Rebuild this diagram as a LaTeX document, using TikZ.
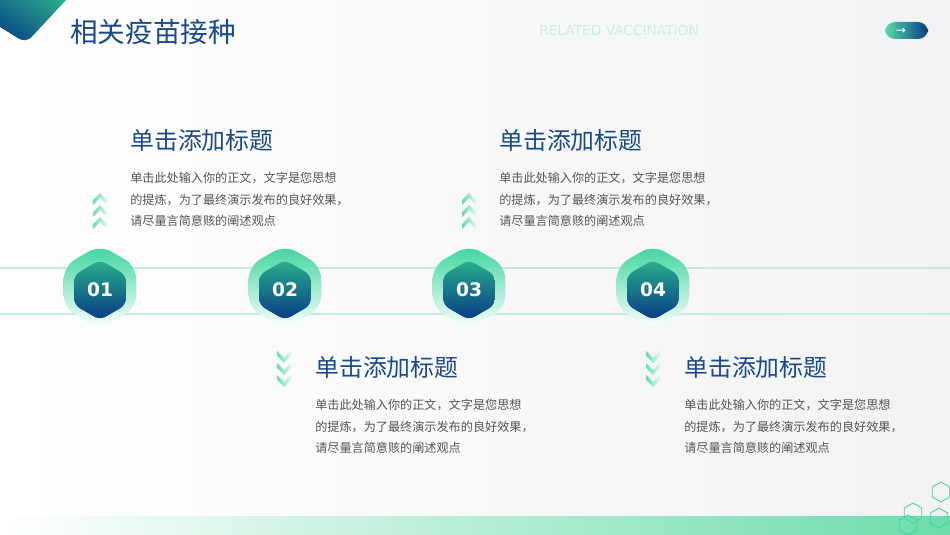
\documentclass[tikz,border=0pt]{standalone}
\usepackage{fontspec}
\newfontfamily\cjk{Noto Sans CJK SC}
\newfontfamily\numfont{DejaVu Sans}
\usepackage{tikz}
\usetikzlibrary{positioning, shadings}
\definecolor{VacNavy}{RGB}{8,58,134}
\definecolor{VacTitle}{RGB}{26,74,138}
\definecolor{VacTeal}{RGB}{42,176,140}
\definecolor{VacMint}{RGB}{61,212,156}
\definecolor{VacLine}{RGB}{196,236,222}
\definecolor{VacPale}{RGB}{200,240,225}
\definecolor{VacText}{RGB}{85,85,85}
\definecolor{VacBand}{RGB}{108,220,170}

% hexagono de punta arriba: x, y, radio
\newcommand{\vachex}[3]{({#1+0.866*#3},{#2-0.5*#3}) -- (#1,{#2-#3}) -- ({#1-0.866*#3},{#2-0.5*#3})
	-- ({#1-0.866*#3},{#2+0.5*#3}) -- (#1,{#2+#3}) -- ({#1+0.866*#3},{#2+0.5*#3}) -- cycle}
% chevron: x, y del vertice, sentido (1 arriba, -1 abajo)
\newcommand{\vacchev}[3]{(#1,#2) -- ({#1+7},{#2+7*#3}) -- ({#1+7},{#2+12*#3}) -- (#1,{#2+5*#3})
	-- ({#1-7},{#2+12*#3}) -- ({#1-7},{#2+7*#3}) -- cycle}

\tikzset{
	headtext/.style={anchor=west, inner sep=0pt, text=VacTitle, font=\cjk\fontsize{17.9}{20}\selectfont},
	bodytext/.style={anchor=west, inner sep=0pt, align=left, text=VacText, font=\cjk\fontsize{9.1}{16.2}\selectfont},
	numtext/.style={text=white, inner sep=0pt, font=\numfont\bfseries\fontsize{14}{16}\selectfont},
	chevshade/.style={left color=VacMint!80, right color=VacMint!15},
}

\begin{document}
\begin{tikzpicture}[x=0.75pt, y=-0.75pt, font=\cjk]
	\useasboundingbox (0,0) rectangle (950,535);
	\shade[left color=white, right color=black!5] (0,0) rectangle (950,535);
	\shade[left color=white, right color=VacBand] (0,516) rectangle (950,535);
	% esquina
	\shade[upper right=VacTeal, lower left=VacNavy, upper left=VacTeal!50!VacNavy, lower right=VacTeal!50!VacNavy]
		(0,0) -- (66,0) [rounded corners=6] -- (26,43) [sharp corners] -- (0,27) -- cycle;
	\node[anchor=west, inner sep=0pt, text=VacTitle, font=\cjk\fontsize{20.7}{24}\selectfont] (title) at (70,32) {相关疫苗接种};
	\node[anchor=west, inner sep=0pt, text=VacPale, font=\numfont\fontsize{10.3}{12}\selectfont] (subtitle) at (539,31) {RELATED VACCINATION};
	\shade[left color=VacMint!85, right color=VacNavy, rounded corners=7.5] (885,22) rectangle (928,39);
	\node[text=white, inner sep=0pt, font=\numfont\fontsize{9}{10}\selectfont] (pill) at (901,31) {→};
	% lineas
	\draw[VacLine, line width=0.8pt] (0,268) -- (950,268);
	\draw[VacLine, line width=0.8pt] (0,314) -- (950,314);
	\foreach \x/\num in {100/01, 285/02, 469/03, 653/04}{
		\shade[rounded corners=10, top color=VacMint, bottom color=white] \vachex{\x}{287}{42};
		\shade[rounded corners=5, top color=VacTeal, bottom color=VacNavy] \vachex{\x}{290}{30};
		\node[numtext] (n\num) at (\x,290) {\num};
	}
	% chevrons
	\foreach \x in {100, 469}
		\foreach \y in {193, 205, 217}
			\shade[chevshade] \vacchev{\x}{\y}{1};
	\foreach \x in {284, 653}
		\foreach \y in {363, 375, 387}
			\shade[chevshade] \vacchev{\x}{\y}{-1};
	% textos
	\foreach \x/\y/\k in {130/140/1, 499/140/3, 315/367/2, 684/367/4}{
		\node[headtext] (head\k) at (\x,\y) {单击添加标题};
		\node[bodytext] (body\k) at (\x,{\y+59.5}) {单击此处输入你的正文，文字是您思想\\的提炼，为了最终演示发布的良好效果，\\请尽量言简意赅的阐述观点};
	}
	% hexagonos pequenos
	\foreach \x/\y in {941/492, 913/513, 939/518, 908/525}
		\draw[VacMint, line width=0.6pt] \vachex{\x}{\y}{10};
\end{tikzpicture}
\end{document}
